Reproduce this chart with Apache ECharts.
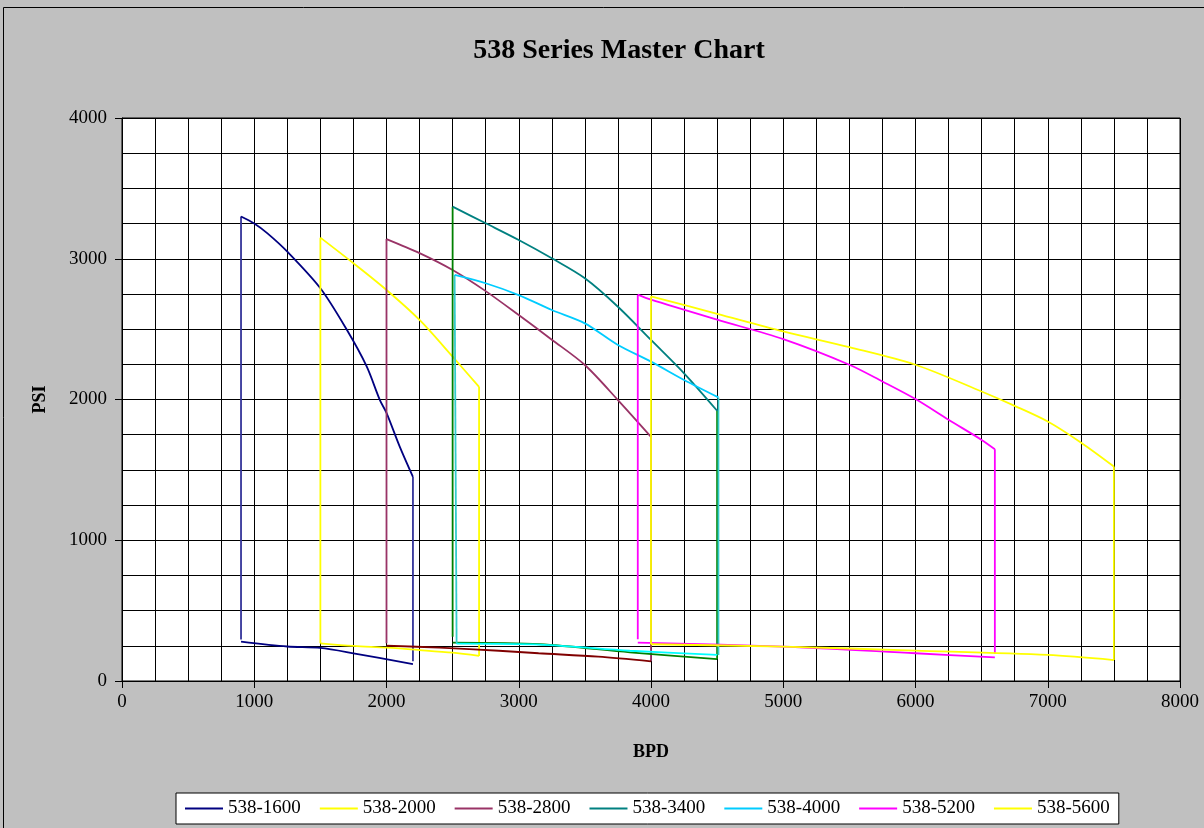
<!DOCTYPE html>
<html>
<head>
<meta charset="utf-8">
<script src="https://cdn.jsdelivr.net/npm/echarts@6/dist/echarts.min.js"></script>
<style>
html,body{margin:0;padding:0;background:#C0C0C0;}
#c{width:1204px;height:828px;}
</style>
</head>
<body>
<div id="c"></div>
<script>
// ---- data (BPD, PSI) ----
const xTicks = [0,1000,2000,3000,4000,5000,6000,7000,8000];
const yTicks = [0,1000,2000,3000,4000];
const seriesNames = ['538-1600','538-2000','538-2800','538-3400','538-4000','538-5200','538-5600'];

const s1600Head = [[900,3300],[1000,3250],[1100,3180],[1250,3050],[1500,2790],[1700,2495],[1850,2235],[1950,1996],[2000,1905],[2100,1665],[2200,1450]];
const s1600Min  = [[900,3300],[900,295]];
const s1600Max  = [[2200,1450],[2200,140]];
const s1600Base = [[900,280],[1250,245],[1500,235],[1750,197],[2200,120]];

const s2000Head = [[1500,3150],[1750,2968],[2000,2778],[2250,2565],[2500,2304],[2700,2090]];
const s2000Min  = [[1500,3150],[1500,268]];
const s2000Max  = [[2700,2090],[2700,178]];
const s2000Base = [[1500,268],[1750,249],[2000,237],[2250,220],[2500,201],[2700,178]];

const s2800Head = [[2000,3140],[2250,3040],[2500,2920],[2750,2770],[3000,2600],[3250,2425],[3500,2245],[3750,1996],[4000,1735]];
const s2800Min  = [[2000,3140],[2000,268]];
const s2800Max  = [[4000,1735],[4000,140]];
const s2800Base = [[2000,251],[2400,237],[2850,215],[3150,197],[3600,173],[4000,140]];

const s3400Head = [[2500,3370],[2750,3252],[3000,3133],[3250,3003],[3500,2861],[3750,2659],[4000,2423],[4250,2186],[4500,1920]];
const s3400Min  = [[2500,3370],[2500,315]];
const s3400Max  = [[4500,1920],[4500,156]];
const s3400Base = [[2500,272],[3160,261],[3840,204],[4500,156]];

const s4000Head = [[2515,2885],[2750,2826],[3000,2742],[3250,2636],[3500,2541],[3750,2387],[4000,2269],[4250,2139],[4510,2015]];
const s4000Min  = [[2515,2885],[2530,265]];
const s4000Max  = [[4510,2015],[4510,185]];
const s4000Base = [[2530,265],[3160,258],[3840,215],[4500,185]];

const s5200Head = [[3900,2745],[4000,2709],[4500,2567],[5000,2429],[5500,2247],[5750,2128],[6000,2003],[6250,1856],[6500,1713],[6600,1647]];
const s5200Min  = [[3900,2745],[3900,296]];
const s5200Max  = [[6600,1647],[6600,192]];
const s5200Base = [[3900,273],[5000,244],[6000,197],[6600,168]];

const s5600Head = [[4000,2733],[4500,2609],[5000,2484],[5500,2372],[6000,2247],[6500,2057],[6750,1955],[7000,1844],[7250,1695],[7500,1524]];
const s5600Min  = [[4000,2733],[4000,261]];
const s5600Max  = [[7500,1524],[7500,149]];
const s5600Base = [[4000,261],[5000,244],[6000,216],[7000,185],[7500,149]];

// ---- styling ----
const FONT = '"Liberation Serif","Times New Roman",serif';
const LW = 1.8;
const models = [
  {name:'538-1600', head:s1600Head, min:s1600Min, max:s1600Max, base:s1600Base, c:['#000080','#333399','#333399','#000080']},
  {name:'538-2000', head:s2000Head, min:s2000Min, max:s2000Max, base:s2000Base, c:['#FFFF00','#FFFF00','#FFFF00','#FFFF00']},
  {name:'538-2800', head:s2800Head, min:s2800Min, max:s2800Max, base:s2800Base, c:['#993366','#993366','#993366','#800000']},
  {name:'538-3400', head:s3400Head, min:s3400Min, max:s3400Max, base:s3400Base, c:['#008080','#008000','#008000','#008000']},
  {name:'538-4000', head:s4000Head, min:s4000Min, max:s4000Max, base:s4000Base, c:['#00CCFF','#33CCCC','#33CCCC','#00FFFF']},
  {name:'538-5200', head:s5200Head, min:s5200Min, max:s5200Max, base:s5200Base, c:['#FF00FF','#FF00FF','#FF00FF','#FF00FF']},
  {name:'538-5600', head:s5600Head, min:s5600Min, max:s5600Max, base:s5600Base, c:['#FFFF00','#FFFF00','#FFFF00','#FFFF00']}
];

function lineSeries(name, data, color, smooth){
  return {name:name, type:'line', data:data, symbol:'none', smooth:smooth||false,
    lineStyle:{color:color, width:LW}, itemStyle:{color:color}, emphasis:{disabled:true}, animation:false};
}
const series = [];
models.forEach(m=>{
  series.push(lineSeries(m.name+' min', m.min, m.c[1]));
  series.push(lineSeries(m.name+' max', m.max, m.c[2]));
  series.push(lineSeries(m.name+' base', m.base, m.c[3], 0.3));
  series.push(lineSeries(m.name, m.head, m.c[0], 0.3));
});

const chart = echarts.init(document.getElementById('c'));
chart.setOption({
  animation:false,
  backgroundColor:'#C0C0C0',
  title:{text:'538 Series Master Chart', left:614, top:32, textAlign:'center',
    textStyle:{fontFamily:FONT, fontWeight:'bold', fontSize:28, color:'#000'}},
  graphic:[{type:'polyline', shape:{points:[[3.5,828],[3.5,7.5],[1204,7.5]]}, style:{stroke:'#000', lineWidth:1, fill:null}}],
  grid:{left:122, top:118, right:24, bottom:147, show:true, backgroundColor:'#FFFFFF', borderColor:'#000', borderWidth:1},
  legend:{data:seriesNames, left:176, top:793, height:30, backgroundColor:'#FFFFFF', borderColor:'#000', borderWidth:1,
    padding:[6,9,6,9], itemGap:19, itemWidth:38, itemHeight:2, icon:'rect',
    textStyle:{fontFamily:FONT, fontSize:19, color:'#000'}},
  xAxis:{type:'value', min:0, max:8000, interval:1000, name:'BPD', nameLocation:'middle', nameGap:62,
    nameTextStyle:{fontFamily:FONT, fontWeight:'bold', fontSize:18, color:'#000'},
    axisLine:{show:true, onZero:false, lineStyle:{color:'#000', width:1}},
    axisTick:{show:true, inside:false, length:7, lineStyle:{color:'#000'}},
    axisLabel:{fontFamily:FONT, fontSize:19, color:'#000', margin:12,
      formatter:v=>xTicks.includes(v)?String(v):''},
    splitLine:{show:true, lineStyle:{color:'#000', width:1}},
    minorTick:{show:false, splitNumber:4},
    minorSplitLine:{show:true, lineStyle:{color:'#000', width:1}}},
  yAxis:{type:'value', min:0, max:4000, interval:1000, name:'PSI', nameLocation:'middle', nameGap:73, nameRotate:90,
    nameTextStyle:{fontFamily:FONT, fontWeight:'bold', fontSize:18, color:'#000'},
    axisLine:{show:true, onZero:false, lineStyle:{color:'#000', width:1}},
    axisTick:{show:true, inside:false, length:7, lineStyle:{color:'#000'}},
    axisLabel:{fontFamily:FONT, fontSize:19, color:'#000', margin:15,
      formatter:v=>yTicks.includes(v)?String(v):''},
    splitLine:{show:true, lineStyle:{color:'#000', width:1}},
    minorTick:{show:false, splitNumber:4},
    minorSplitLine:{show:true, lineStyle:{color:'#000', width:1}}},
  series:series
});
</script>
</body>
</html>
